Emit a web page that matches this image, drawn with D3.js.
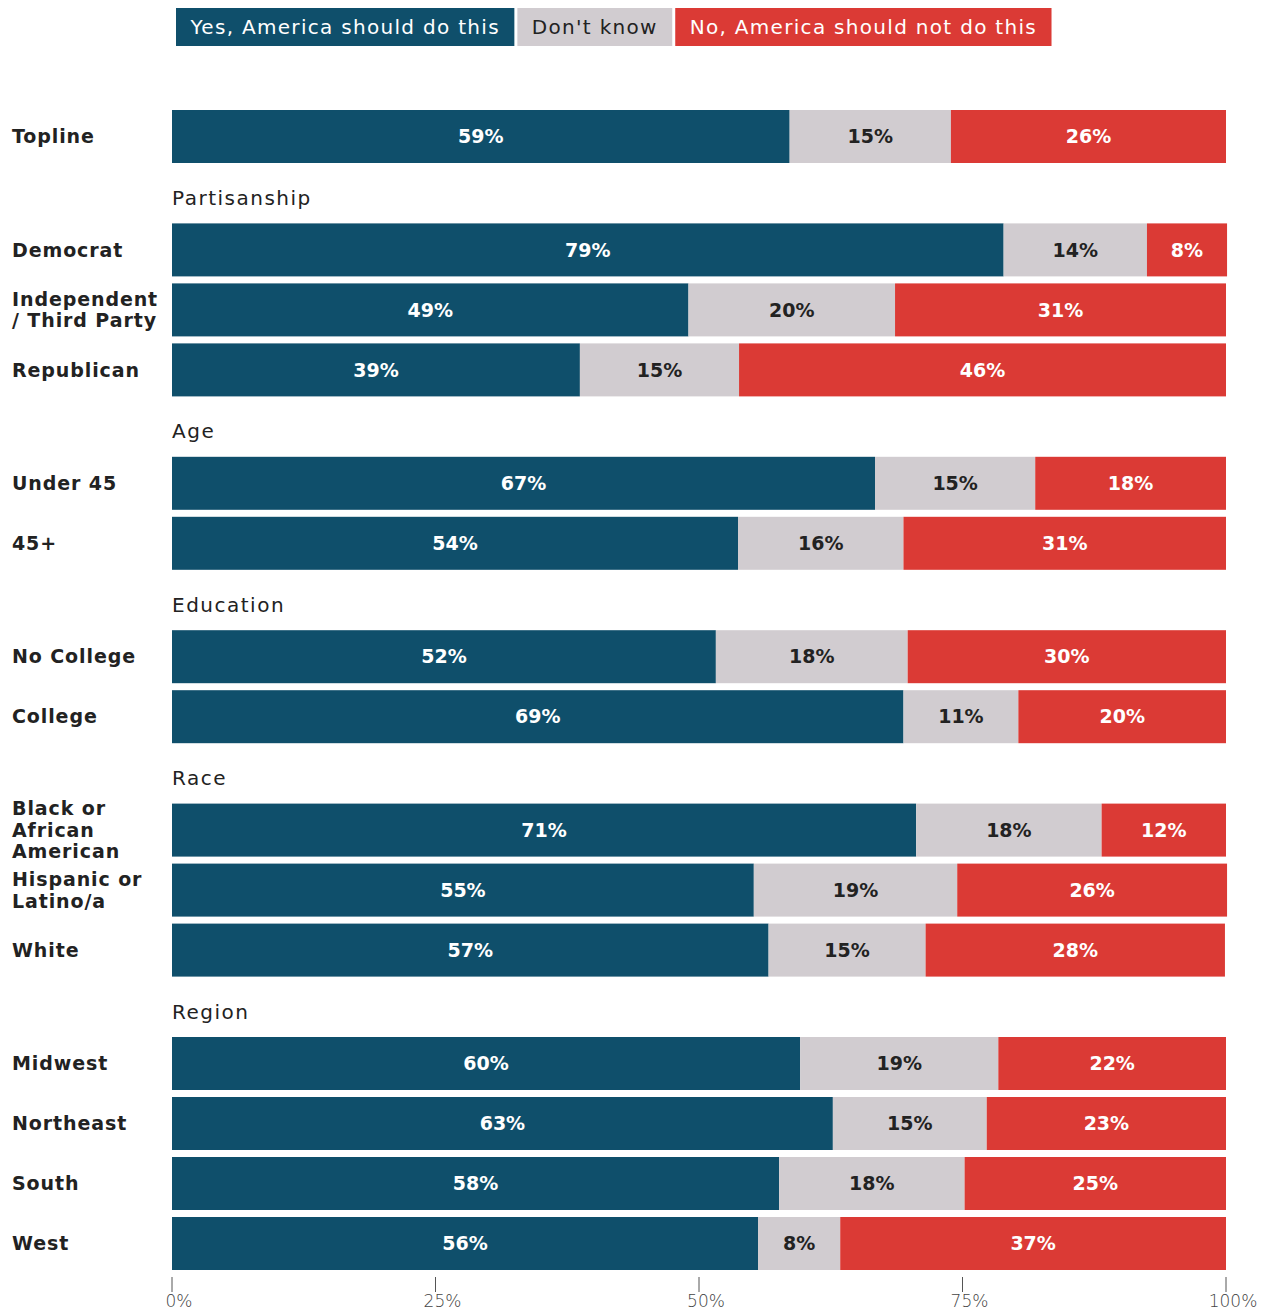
<!DOCTYPE html>
<html>
<head>
<meta charset="utf-8">
<script src="https://cdn.jsdelivr.net/npm/d3@7"></script>
<style>
  body { margin: 0; background: #fff; }
  svg text { font-family: "DejaVu Sans", sans-serif; }
</style>
</head>
<body>
<div id="chart"></div>
<script>
// rows in display order; group headers sit above the first row of each group
const rows = ['Topline', 'Democrat', 'Independent\n/ Third Party', 'Republican', 'Under 45', '45+',
    'No College', 'College', 'Black or\nAfrican\nAmerican', 'Hispanic or\nLatino/a', 'White',
    'Midwest', 'Northeast', 'South', 'West'];
const groups = ['', 'Partisanship', 'Partisanship', 'Partisanship', 'Age', 'Age',
    'Education', 'Education', 'Race', 'Race', 'Race', 'Region', 'Region', 'Region', 'Region'];
const yesValues = [58.6, 78.9, 49.0, 38.7, 66.7, 53.7, 51.6, 69.4, 70.6, 55.2, 56.6, 59.6, 62.7, 57.6, 55.6];
const dkValues = [15.3, 13.6, 19.6, 15.1, 15.2, 15.7, 18.2, 10.9, 17.6, 19.3, 14.9, 18.8, 14.6, 17.6, 7.8];
const noValues = [26.1, 7.6, 31.4, 46.2, 18.1, 30.6, 30.2, 19.7, 11.8, 25.6, 28.4, 21.6, 22.7, 24.8, 36.6];
const seriesKeys = ['yes', 'dk', 'no'];
const seriesNames = ['Yes, America should do this', "Don't know", 'No, America should not do this'];
const tickValues = [0, 25, 50, 75, 100];

const colors = { yes: '#0f4f6b', dk: '#d1ccd0', no: '#db3a35' };
const labelColors = { yes: '#ffffff', dk: '#222222', no: '#ffffff' };

const width = 1263, height = 1311;
const margin = { left: 172, right: 37 };

const svg = d3.select('#chart').append('svg')
    .attr('width', width)
    .attr('height', height);

const x = d3.scaleLinear().domain([0, 100]).range([margin.left, width - margin.right]);

// slot position: each row is one slot, each group header adds 0.89 slot
let slots = [];
let headers = [];
let pos = 0;
rows.forEach((r, i) => {
    if (i > 0 && groups[i] !== groups[i - 1]) {
        headers.push({ name: groups[i], slot: pos });
        pos += 0.89;
    }
    slots.push(pos);
    pos += 1;
});
const y = d3.scaleLinear().domain([0, 1]).range([110, 170]);
const barH = 53;

// stacked data
const table = rows.map((r, i) => ({ row: r, yes: yesValues[i], dk: dkValues[i], no: noValues[i], slot: slots[i] }));
const series = d3.stack().keys(seriesKeys)(table);

const layer = svg.append('g').selectAll('g')
    .data(series)
    .join('g')
    .attr('fill', d => colors[d.key]);

layer.selectAll('rect')
    .data(d => d)
    .join('rect')
    .attr('x', d => x(d[0]))
    .attr('y', d => y(d.data.slot))
    .attr('width', d => x(d[1]) - x(d[0]))
    .attr('height', barH);

layer.each(function (s) {
    d3.select(this).selectAll('text')
        .data(s)
        .join('text')
        .attr('x', d => (x(d[0]) + x(d[1])) / 2)
        .attr('y', d => y(d.data.slot) + barH / 2)
        .attr('dy', '0.35em')
        .attr('text-anchor', 'middle')
        .attr('fill', labelColors[s.key])
        .style('font-size', '19px')
        .style('font-weight', 600)
        .text(d => Math.round(d.data[s.key]) + '%');
});

// row labels
svg.append('g').selectAll('text')
    .data(table)
    .join('text')
    .attr('x', 12)
    .attr('fill', '#222')
    .style('font-size', '19px')
    .style('font-weight', 'bold')
    .style('letter-spacing', '0.9px')
    .each(function (d) {
        const lines = d.row.split('\n');
        const mid = y(d.slot) + barH / 2;
        const lh = 21.5;
        const top = mid - (lines.length - 1) * lh / 2;
        d3.select(this).selectAll('tspan')
            .data(lines)
            .join('tspan')
            .attr('x', 12)
            .attr('y', (l, j) => top + j * lh)
            .attr('dy', '0.35em')
            .text(l => l);
    });

// group headers
svg.append('g').selectAll('text')
    .data(headers)
    .join('text')
    .attr('x', margin.left)
    .attr('y', d => y(d.slot) + 28)
    .attr('dy', '0.35em')
    .attr('fill', '#222')
    .style('font-size', '20px')
    .style('letter-spacing', '1.5px')
    .text(d => d.name);

// axis
const axisY = 1277;
const axis = svg.append('g');
axis.selectAll('line')
    .data(tickValues)
    .join('line')
    .attr('x1', d => x(d)).attr('x2', d => x(d))
    .attr('y1', axisY).attr('y2', axisY + 15)
    .attr('stroke', '#555')
    .attr('stroke-width', 1);
axis.selectAll('text')
    .data(tickValues)
    .join('text')
    .attr('x', d => x(d) + 7)
    .attr('y', axisY + 24)
    .attr('dy', '0.35em')
    .attr('text-anchor', 'middle')
    .attr('fill', '#444')
    .style('font-size', '17px')
    .style('font-weight', 300)
    .text(d => d + '%');

// legend
const legend = svg.append('g');
let lx = 176;
seriesKeys.forEach((k, i) => {
    const g = legend.append('g');
    const rect = g.append('rect').attr('y', 8).attr('height', 38).attr('fill', colors[k]);
    const t = g.append('text')
        .attr('y', 27)
        .attr('dy', '0.35em')
        .attr('fill', labelColors[k])
        .style('font-size', '20px')
        .style('font-weight', 500)
        .style('letter-spacing', '1.3px')
        .text(seriesNames[i]);
    const w = t.node().getComputedTextLength() + 29;
    rect.attr('x', lx).attr('width', w);
    t.attr('x', lx + 14.5);
    lx += w + 3;
});
</script>
</body>
</html>
